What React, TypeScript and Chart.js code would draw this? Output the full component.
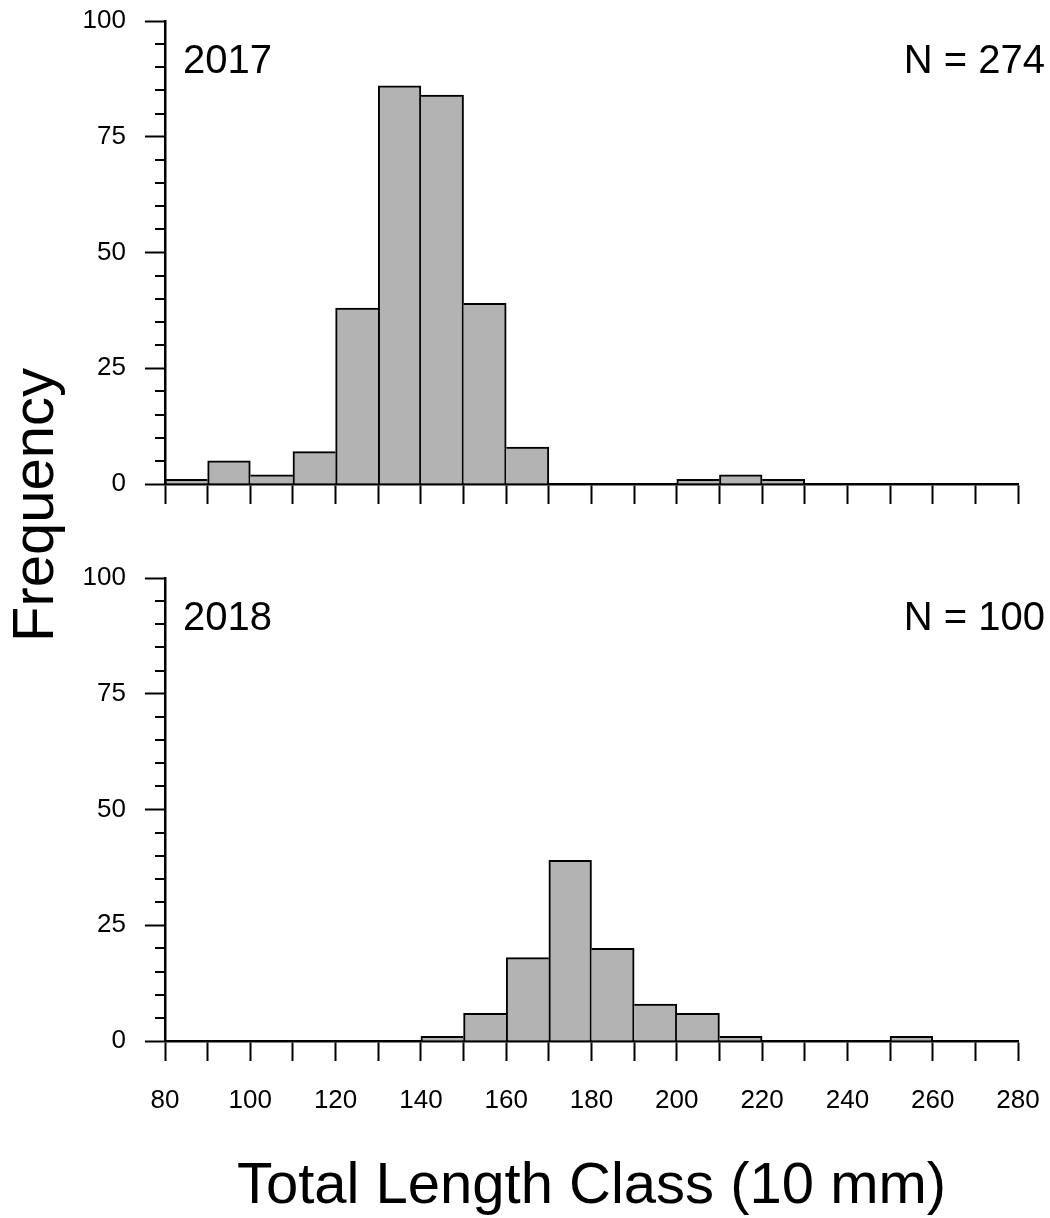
import React, { useEffect, useRef } from "react";
import { Chart, registerables } from "chart.js";

Chart.register(...registerables);

// ---- data ----
const BIN = 10;
const binStarts2017 = [80, 90, 100, 110, 120, 130, 140, 150, 160, 200, 210, 220];
const freq2017 = [1, 5, 2, 7, 38, 86, 84, 39, 8, 1, 2, 1];
const binStarts2018 = [140, 150, 160, 170, 180, 190, 200, 210, 250];
const freq2018 = [1, 6, 18, 39, 20, 8, 6, 1, 1];
const yTickValues = [0, 25, 50, 75, 100];
const xTickLabels = [80, 100, 120, 140, 160, 180, 200, 220, 240, 260, 280];
const years = ["2017", "2018"];
const sampleSizes = ["N = 274", "N = 100"];
const yTitle = "Frequency";
const xTitle = "Total Length Class (10 mm)";

const W = 1050;
const H = 1218;
const FONT = "'Liberation Sans', Arial, Helvetica, sans-serif";
const TICK_FONT_SIZE = 26;

function borderFn(starts: number[], vals: number[]) {
  return (ctx: any) => {
    const i = ctx.dataIndex;
    const s = starts[i];
    const h = vals[i];
    const pi = starts.indexOf(s - BIN);
    const ni = starts.indexOf(s + BIN);
    const ph = pi >= 0 ? vals[pi] : -1;
    const nh = ni >= 0 ? vals[ni] : -1;
    return { top: 2, left: h > ph ? 2 : 0, right: h >= nh ? 2 : 0, bottom: 0 };
  };
}

function zeroPad(s: any) {
  s.paddingTop = 0;
  s.paddingBottom = 0;
  s.paddingLeft = 0;
  s.paddingRight = 0;
}

function makeConfig(
  starts: number[],
  vals: number[],
  areaTop: number,
  areaBottom: number,
  idx: number,
  showXLabels: boolean
): any {
  const annot = {
    id: "annot" + idx,
    afterDraw(chart: any) {
      const { ctx, chartArea } = chart;
      const ys = chart.scales.y;
      ctx.save();
      // minor y ticks
      ctx.strokeStyle = "#000";
      ctx.lineWidth = 2;
      for (let v = 5; v < 100; v += 5) {
        if (yTickValues.includes(v)) continue;
        const py = Math.round(ys.getPixelForValue(v));
        ctx.beginPath();
        ctx.moveTo(chartArea.left - 10, py);
        ctx.lineTo(chartArea.left, py);
        ctx.stroke();
      }
      ctx.fillStyle = "#000";
      ctx.font = `40px ${FONT}`;
      ctx.textBaseline = "alphabetic";
      ctx.textAlign = "left";
      ctx.fillText(years[idx], chartArea.left + 18, chartArea.top + 52);
      ctx.textAlign = "right";
      ctx.fillText(sampleSizes[idx], 1045, chartArea.top + 52);
      if (idx === 0) {
        ctx.save();
        ctx.translate(53, 505);
        ctx.rotate(-Math.PI / 2);
        ctx.textAlign = "center";
        ctx.font = `58px ${FONT}`;
        ctx.fillText(yTitle, 0, 0);
        ctx.restore();
      } else {
        ctx.textAlign = "center";
        ctx.font = `58px ${FONT}`;
        ctx.fillText(xTitle, (chartArea.left + chartArea.right) / 2, 1203);
      }
      ctx.restore();
    },
  };

  return {
    type: "bar",
    data: {
      datasets: [
        {
          data: starts.map((s, i) => ({ x: s + BIN / 2, y: vals[i] })),
          backgroundColor: "#b3b3b3",
          borderColor: "#000",
          borderWidth: borderFn(starts, vals),
          barPercentage: 1,
          categoryPercentage: 1,
        },
      ],
    },
    options: {
      responsive: false,
      animation: false,
      events: [],
      layout: { padding: { left: 0, right: W - 1018, top: areaTop, bottom: 0 } },
      plugins: { legend: { display: false }, tooltip: { enabled: false } },
      scales: {
        x: {
          type: "linear",
          min: 80,
          max: 280,
          offset: false,
          ticks: {
            stepSize: 10,
            autoSkip: false,
            maxRotation: 0,
            display: showXLabels,
            callback: (v: number) => (xTickLabels.includes(v) ? String(v) : ""),
            font: { family: FONT, size: TICK_FONT_SIZE },
            color: "#000",
            padding: 24,
          },
          grid: {
            offset: false,
            drawOnChartArea: false,
            drawTicks: true,
            tickLength: 20,
            tickWidth: 2,
            tickColor: "#000",
          },
          border: { display: true, color: "#000", width: 2.5 },
          afterFit: (s: any) => {
            s.height = H - areaBottom;
            zeroPad(s);
          },
        },
        y: {
          min: 0,
          max: 100,
          afterBuildTicks: (s: any) => {
            s.ticks = yTickValues.map((v) => ({ value: v }));
          },
          ticks: {
            font: { family: FONT, size: TICK_FONT_SIZE },
            color: "#000",
            padding: 19,
          },
          grid: {
            offset: false,
            drawOnChartArea: false,
            drawTicks: true,
            tickLength: 20,
            tickWidth: 2,
            tickColor: "#000",
          },
          border: { display: true, color: "#000", width: 2.5 },
          afterFit: (s: any) => {
            s.width = 165;
            zeroPad(s);
          },
        },
      },
    },
    plugins: [annot],
  };
}

export default function App() {
  const ref1 = useRef<HTMLCanvasElement>(null);
  const ref2 = useRef<HTMLCanvasElement>(null);

  useEffect(() => {
    const c1 = new Chart(ref1.current!, makeConfig(binStarts2017, freq2017, 21, 484, 0, false));
    const c2 = new Chart(ref2.current!, makeConfig(binStarts2018, freq2018, 578, 1041, 1, true));
    return () => {
      c1.destroy();
      c2.destroy();
    };
  }, []);

  const cstyle: React.CSSProperties = {
    position: "absolute",
    left: 0,
    top: 0,
    width: W,
    height: H,
  };

  return (
    <div style={{ position: "absolute", left: 0, top: 0, width: W, height: H, background: "#fff" }}>
      <canvas ref={ref1} width={W} height={H} style={cstyle} />
      <canvas ref={ref2} width={W} height={H} style={cstyle} />
    </div>
  );
}
